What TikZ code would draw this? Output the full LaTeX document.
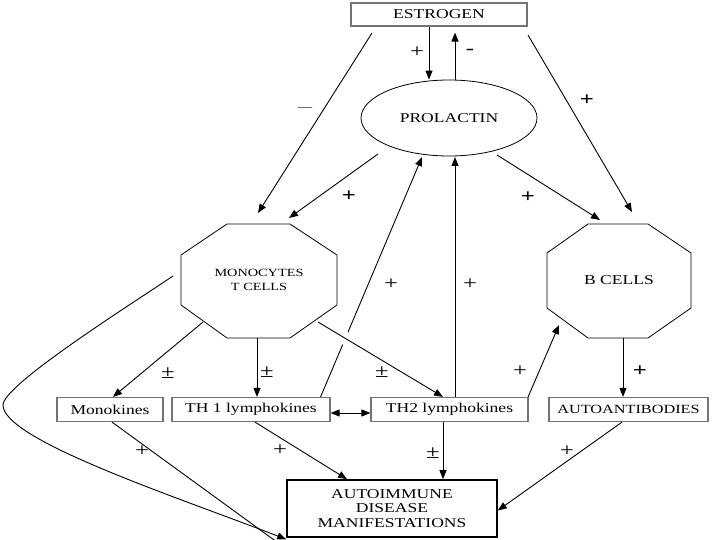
\documentclass[tikz,border=0pt]{standalone}
\usepackage{fontspec}
\setmainfont{Liberation Serif}[FakeStretch=1.3]
\usetikzlibrary{arrows.meta,shapes.geometric,calc}
\begin{document}
\begin{tikzpicture}[x=1pt,y=-1pt,
  box/.style={draw=black!55, line width=1.2pt, inner sep=0pt, minimum height=24pt, font=\fontsize{13.5}{15}\selectfont},
  arr/.style={-{Triangle[length=9pt,width=7pt]}, line width=0.9pt},
  octa/.style={draw, line width=0.8pt},
  lab/.style={inner sep=0pt, font=\fontsize{19}{19}\selectfont},
  blab/.style={inner sep=0pt, font=\fontsize{19}{19}\selectfont\bfseries}]
\useasboundingbox (0,0) rectangle (720,540);
% nodes
\node[box, minimum width=176pt, minimum height=23pt] (est) at (439,14.5) {ESTROGEN};
\node[draw, ellipse, line width=0.8pt, minimum width=176pt, minimum height=76pt, inner sep=0pt, font=\fontsize{13.5}{15}\selectfont] (prol) at (449,118) {PROLACTIN};
\draw[octa] (227,224) -- (290,224) -- (337,255) -- (337,305) -- (290,338) -- (227,338) -- (181,305) -- (181,255) -- cycle;
\node[align=center, inner sep=0pt, font=\fontsize{11}{14}\selectfont] (mono) at (259,280) {MONOCYTES\\T CELLS};
\draw[octa] (588,224) -- (648,224) -- (691,253) -- (691,308) -- (648,338) -- (588,338) -- (547,308) -- (547,253) -- cycle;
\node[inner sep=0pt, font=\fontsize{13.5}{15}\selectfont] (bcell) at (619,280) {B CELLS};
\node[box, minimum width=106pt] (monok) at (110,409.5) {Monokines};
\node[box, minimum width=158pt] (th1) at (251,409.5) {TH 1 lymphokines};
\node[box, minimum width=157pt] (th2) at (449.5,409.5) {TH2 lymphokines};
\node[box, minimum width=159pt, font=\fontsize{12.5}{14}\selectfont] (autoab) at (628.5,409.5) {AUTOANTIBODIES};
\node[draw=black, line width=1.6pt, minimum width=210pt, minimum height=57pt, inner sep=0pt, align=center, font=\fontsize{13.5}{14.5}\selectfont] (auto) at (392,508.5) {AUTOIMMUNE\\DISEASE\\MANIFESTATIONS};
% attachment points
\coordinate (monoN1) at (258,213);
\coordinate (monoN2) at (289,218);
\coordinate (monoSW) at (203,322);
\coordinate (monoS) at (257,338);
\coordinate (monoSE) at (318,322);
\coordinate (monoW) at (173,276);
\coordinate (bN1) at (632,212);
\coordinate (bN2) at (600,220);
\coordinate (bSW) at (559,325);
\coordinate (bS) at (623,338);
\coordinate (estSW) at (372,33);
\coordinate (estSE) at (528,35);
\coordinate (prolSW) at (378,154);
\coordinate (prolSE) at (497,155);
\coordinate (prolS1) at (422,157);
\coordinate (prolS2) at (455,157);
% estrogen <-> prolactin
\draw[arr] ([xshift=-10pt]est.south) -- ([xshift=-20pt]prol.north);
\draw[arr, shorten >=6pt] ([xshift=6pt]prol.north) -- ([xshift=16pt]est.south);
\draw[arr] (estSW) -- (monoN1);
\draw[arr] (estSE) -- (bN1);
\draw[arr] (prolSW) -- (monoN2);
\draw[arr] (prolSE) -- (bN2);
% feedback to prolactin
\draw[arr] ([xshift=-10pt]th1.north east) -- (prolS1);
\draw[arr] ([xshift=5.5pt]th2.north) -- (prolS2);
\draw[arr] ([xshift=-0.5pt]th2.north east) -- (bSW);
% from monocytes
\draw[arr] (monoSW) -- ([xshift=3pt]monok.north);
\draw[arr] (monoS) -- (monoS |- th1.north);
\draw[white, line width=13pt] ($(monoSE)!0.18!([xshift=-6.5pt]th2.north)$) -- ($(monoSE)!0.25!([xshift=-6.5pt]th2.north)$);
\draw[arr] (monoSE) -- ([xshift=-6.5pt]th2.north);
\draw[arr] (bS) -- (bS |- autoab.north);
\draw[{Triangle[length=9pt,width=7pt]}-{Triangle[length=9pt,width=7pt]}, line width=0.9pt] ([yshift=-3.5pt]th1.east) -- ([yshift=-3.5pt]th2.west);
% to autoimmune
\draw[arr] (monoW) .. controls (130,305) and (3,385) .. (3,405) .. controls (3,440) and (177,497) .. ([yshift=-1.5pt]auto.south west);
\draw[arr] ([xshift=2pt]monok.south) -- ([yshift=-11pt]auto.south west);
\draw[arr] ([xshift=4pt]th1.south) -- ([xshift=-45pt]auto.north);
\draw[arr] ([xshift=-6.5pt]th2.south) -- ([xshift=51pt]auto.north);
\draw[arr] ([xshift=-6.5pt]autoab.south) -- ([yshift=-2pt]auto.east);
% labels
\node[lab] (l1) at (417,52) {+};
\node[lab] (l2) at (470,52) {-};
\node[inner sep=0pt, font=\fontsize{11}{11}\selectfont] (l3) at (305,109) {—};
\node[blab] (l4) at (587,100) {+};
\node[blab] (l5) at (349,196) {+};
\node[blab] (l6) at (528,197) {+};
\node[lab] (l7) at (391,284) {+};
\node[lab] (l8) at (470,284) {+};
\node[lab] (l9) at (168,373) {±};
\node[lab] (l10) at (267,372) {±};
\node[lab] (l11) at (382,372) {±};
\node[lab] (l12) at (520,371) {+};
\node[blab] (l13) at (640,371) {+};
\node[lab] (l14) at (142,451) {+};
\node[lab] (l15) at (280,450) {+};
\node[lab] (l16) at (433,453) {±};
\node[lab] (l17) at (567,451) {+};
\end{tikzpicture}
\end{document}
